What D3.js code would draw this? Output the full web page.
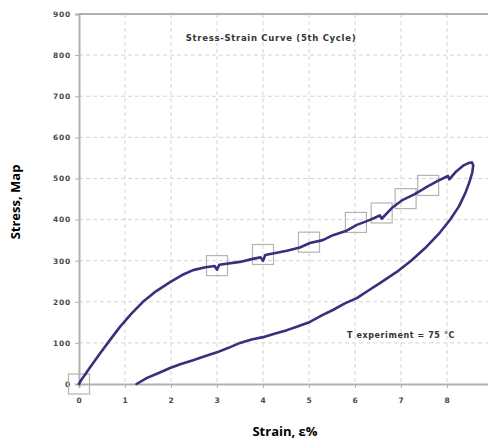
<!DOCTYPE html>
<html>
<head>
<meta charset="utf-8">
<script src="https://cdn.jsdelivr.net/npm/d3@7"></script>
<style>
  body { margin: 0; background: #fff; }
  svg { display: block; }
</style>
</head>
<body>
<div id="chart"></div>
<script>
// loading branch of the 5th cycle, [strain %, stress]
var loadingStrain = [0, 0.05, 0.25, 0.46, 0.68, 0.89, 1.14, 1.39, 1.68, 1.98, 2.24, 2.48, 2.75, 2.95, 3.0, 3.05, 3.5, 3.8, 3.95, 4.0, 4.05, 4.52, 4.8, 5.02, 5.3, 5.52, 5.8, 6.04, 6.3, 6.54, 6.58, 6.8, 7.04, 7.3, 7.57, 7.8, 8.02, 8.05, 8.2, 8.35, 8.48, 8.54];
var loadingStress = [0, 10, 42, 75, 108, 139, 171, 200, 226, 248, 265, 277, 284, 287, 278, 290, 297, 305, 308, 300, 314, 324, 332, 343, 350, 362, 372, 387, 398, 410, 402, 428, 448, 462, 480, 494, 506, 498, 517, 531, 538, 539];

// unloading branch
var unloadStrain = [8.57, 8.55, 8.49, 8.4, 8.26, 8.07, 7.82, 7.52, 7.22, 6.9, 6.55, 6.3, 6.04, 5.78, 5.52, 5.3, 5.02, 4.75, 4.52, 4.25, 4.0, 3.75, 3.5, 3.25, 3.0, 2.75, 2.48, 2.2, 1.98, 1.72, 1.48, 1.25];
var unloadStress = [532, 515, 492, 465, 432, 400, 365, 330, 300, 272, 246, 228, 209, 196, 180, 168, 151, 140, 131, 122, 114, 108, 100, 88, 77, 68, 58, 48, 39, 26, 15, 0];

// highlighted points (grey boxes)
var boxStrain = [0, 3, 4, 5, 6.02, 6.58, 7.1, 7.59];
var boxStress = [0, 288, 315, 345, 393, 416, 451, 483];

var xTicks = [0, 1, 2, 3, 4, 5, 6, 7, 8];
var yTicks = [0, 100, 200, 300, 400, 500, 600, 700, 800, 900];

var W = 488, H = 442;
var margin = { top: 14, left: 79 };
var plotW = 414, plotH = 370;
var lineColor = "#3f2d7c";
var smallFont = "'DejaVu Sans', Verdana, sans-serif";

var svg = d3.select("#chart").append("svg")
  .attr("width", W)
  .attr("height", H);

var x = d3.scaleLinear().domain([0, 9]).range([0, plotW]);
var y = d3.scaleLinear().domain([0, 900]).range([plotH, 0]);

var g = svg.append("g")
  .attr("transform", "translate(" + margin.left + "," + margin.top + ")");

// dashed grid
g.append("g")
  .selectAll("line")
  .data(xTicks.slice(1))
  .enter().append("line")
  .attr("x1", function(d) { return x(d); })
  .attr("x2", function(d) { return x(d); })
  .attr("y1", 0)
  .attr("y2", plotH)
  .attr("stroke", "#d4d4d4")
  .attr("stroke-dasharray", "4,3");

g.append("g")
  .selectAll("line")
  .data(yTicks.slice(1, -1))
  .enter().append("line")
  .attr("x1", 0)
  .attr("x2", plotW)
  .attr("y1", function(d) { return y(d); })
  .attr("y2", function(d) { return y(d); })
  .attr("stroke", "#d4d4d4")
  .attr("stroke-dasharray", "4,3");

// top border
g.append("line")
  .attr("x1", 0).attr("x2", plotW)
  .attr("y1", 0).attr("y2", 0)
  .attr("stroke", "#b0b0b0")
  .attr("stroke-width", 2);

// axes
var xAxis = d3.axisBottom(x).tickValues(xTicks).tickSize(4).tickFormat(d3.format("d"));
var yAxis = d3.axisLeft(y).tickValues(yTicks).tickSize(4).tickFormat(d3.format("d"));

var gx = g.append("g")
  .attr("transform", "translate(0," + plotH + ")")
  .call(xAxis);
var gy = g.append("g").call(yAxis);

[gx, gy].forEach(function(a) {
  a.select(".domain").attr("stroke", "#b0b0b0").attr("stroke-width", 2);
  a.selectAll(".tick line").attr("stroke", "#b0b0b0");
  a.selectAll(".tick text")
    .attr("fill", "#4a4a4a")
    .style("font-family", smallFont)
    .style("font-weight", "bold")
    .style("font-size", "7.5px")
    .style("letter-spacing", "0.8px");
});
gx.selectAll(".tick text").attr("y", 14).attr("dy", "0.71em");
gy.selectAll(".tick text").attr("x", -8);

// boxes
var boxes = d3.range(boxStrain.length);
g.append("g")
  .selectAll("rect")
  .data(boxes)
  .enter().append("rect")
  .attr("x", function(i) { return x(boxStrain[i]) - 10.5; })
  .attr("y", function(i) { return y(boxStress[i]) - 10; })
  .attr("width", 21)
  .attr("height", 20)
  .attr("fill", "none")
  .attr("stroke", "#b4b4b4")
  .attr("stroke-width", 1.2);

// curve
var line = d3.line()
  .x(function(d) { return x(d[0]); })
  .y(function(d) { return y(d[1]); });

var pts = loadingStrain.map(function(s, i) { return [s, loadingStress[i]]; })
  .concat(unloadStrain.map(function(s, i) { return [s, unloadStress[i]]; }));

g.append("path")
  .datum(pts)
  .attr("d", line)
  .attr("fill", "none")
  .attr("stroke", lineColor)
  .attr("stroke-width", 2.6)
  .attr("stroke-linejoin", "round")
  .attr("stroke-linecap", "round");

// annotations
svg.append("text")
  .attr("x", 271)
  .attr("y", 41)
  .attr("text-anchor", "middle")
  .style("font-family", smallFont)
  .style("font-weight", "bold")
  .style("font-size", "8.5px")
  .style("letter-spacing", "0.7px")
  .attr("fill", "#333")
  .text("Stress-Strain Curve (5th Cycle)");

svg.append("text")
  .attr("x", 401)
  .attr("y", 338)
  .attr("text-anchor", "middle")
  .style("font-family", smallFont)
  .style("font-weight", "bold")
  .style("font-size", "8px")
  .style("letter-spacing", "0.6px")
  .attr("fill", "#333")
  .text("T experiment = 75 °C");

// axis titles
svg.append("text")
  .attr("transform", "translate(20,202) rotate(-90)")
  .attr("text-anchor", "middle")
  .style("font-family", "'Open Sans', 'Noto Sans', sans-serif")
  .style("font-weight", "bold")
  .style("font-size", "13px")
  .attr("fill", "#000")
  .text("Stress, Map");

svg.append("text")
  .attr("x", 285)
  .attr("y", 436)
  .attr("text-anchor", "middle")
  .style("font-family", "'Open Sans', 'Noto Sans', sans-serif")
  .style("font-weight", "bold")
  .style("font-size", "13px")
  .attr("fill", "#000")
  .text("Strain, ε%");
</script>
</body>
</html>
